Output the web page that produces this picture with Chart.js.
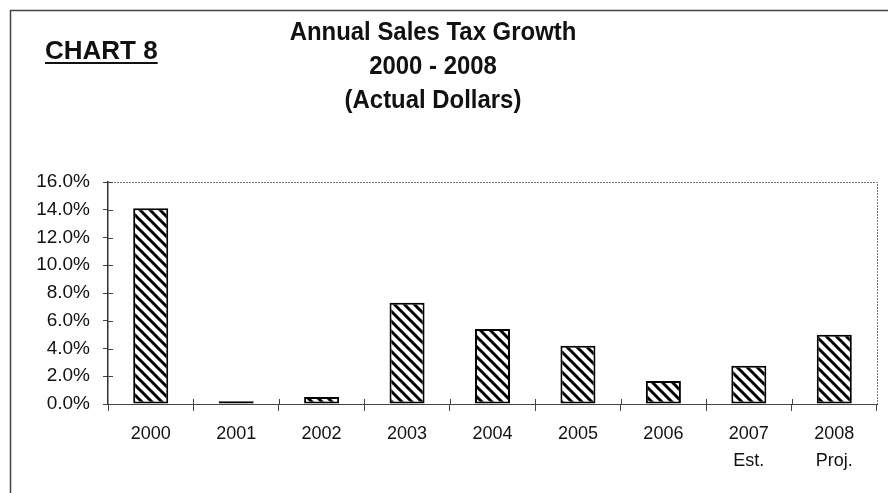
<!DOCTYPE html>
<html>
<head>
<meta charset="utf-8">
<script src="https://cdn.jsdelivr.net/npm/chart.js@4"></script>
<style>
  html, body { margin: 0; padding: 0; background: #fff; }
  #wrap { width: 888px; height: 493px; position: relative; }
</style>
</head>
<body>
<div id="wrap"><canvas id="c" width="888" height="493"></canvas></div>
<script>
// Annual sales tax growth, percent change per year
const categories = [['2000'], ['2001'], ['2002'], ['2003'], ['2004'], ['2005'], ['2006'], ['2007', 'Est.'], ['2008', 'Proj.']];
const growthPct = [14.1, 0.2, 0.5, 7.3, 5.4, 4.2, 1.65, 2.75, 5.0];
const titleLines = ['Annual Sales Tax Growth', '2000 - 2008', '(Actual Dollars)'];
const chartLabel = 'CHART 8';

// Diagonal hatch fill for the bars
function hatchPattern() {
  const c = document.createElement('canvas');
  c.width = 10; c.height = 10;
  const g = c.getContext('2d');
  g.fillStyle = '#fff';
  g.fillRect(0, 0, 10, 10);
  g.strokeStyle = '#000';
  g.lineWidth = 3;
  g.beginPath();
  g.moveTo(-5, -5); g.lineTo(15, 15);
  g.moveTo(-5, 5); g.lineTo(5, 15);
  g.moveTo(5, -5); g.lineTo(15, 5);
  g.stroke();
  return g.createPattern(c, 'repeat');
}

const LABEL_FONT = "'Liberation Sans', Arial, sans-serif";

// Page frame, headings, plot border and crossing tick marks
const decorations = {
  id: 'decorations',
  beforeDraw(chart) {
    const ctx = chart.ctx;
    ctx.save();
    ctx.fillStyle = '#fff';
    ctx.fillRect(0, 0, chart.width, chart.height);
    ctx.restore();
  },
  afterDraw(chart) {
    const ctx = chart.ctx;
    const a = chart.chartArea;
    const x = chart.scales.x, y = chart.scales.y;
    ctx.save();

    // outer frame (left and top edges)
    ctx.strokeStyle = '#444';
    ctx.lineWidth = 1.5;
    ctx.beginPath();
    ctx.moveTo(10.5, chart.height);
    ctx.lineTo(10.5, 10.5);
    ctx.lineTo(chart.width, 10.5);
    ctx.stroke();

    // plot border, top and right
    ctx.strokeStyle = '#777';
    ctx.lineWidth = 1;
    ctx.setLineDash([2, 1]);
    ctx.beginPath();
    ctx.moveTo(a.left, a.top + 0.5);
    ctx.lineTo(a.right + 0.5, a.top + 0.5);
    ctx.lineTo(a.right + 0.5, a.bottom);
    ctx.stroke();
    ctx.setLineDash([]);

    // inner halves of the tick marks
    ctx.strokeStyle = '#444';
    ctx.beginPath();
    y.ticks.forEach((t, i) => {
      const py = Math.round(y.getPixelForTick(i)) + 0.5;
      ctx.moveTo(a.left, py);
      ctx.lineTo(a.left + 5, py);
    });
    for (let i = 1; i < categories.length; i++) {
      const px = Math.round(x.getPixelForValue(i - 0.5)) + 0.5;
      ctx.moveTo(px, a.bottom);
      ctx.lineTo(px, a.bottom - 5);
    }
    ctx.stroke();

    // headings
    ctx.fillStyle = '#111';
    ctx.textBaseline = 'alphabetic';
    ctx.textAlign = 'left';
    ctx.font = "bold 26px " + LABEL_FONT;
    ctx.fillText(chartLabel, 45, 59);
    const w = ctx.measureText(chartLabel).width;
    ctx.fillRect(45, 62, w, 2);

    // condensed bold title
    ctx.textAlign = 'center';
    ctx.font = "bold 26px " + LABEL_FONT;
    titleLines.forEach((t, i) => {
      ctx.save();
      ctx.translate(433, 40 + i * 34);
      ctx.scale(0.92, 1);
      ctx.fillText(t, 0, 0);
      ctx.restore();
    });

    ctx.restore();
  }
};

new Chart(document.getElementById('c'), {
  type: 'bar',
  data: {
    labels: categories,
    datasets: [{
      data: growthPct,
      backgroundColor: hatchPattern(),
      borderColor: '#000',
      borderWidth: 2,
      borderSkipped: false,
      categoryPercentage: 1,
      barPercentage: 0.41
    }]
  },
  options: {
    responsive: false,
    animation: false,
    devicePixelRatio: 1,
    layout: { padding: { top: 182, right: 11, left: 0, bottom: 0 } },
    plugins: { legend: { display: false }, tooltip: { enabled: false }, title: { display: false } },
    scales: {
      x: {
        afterFit(s) { s.height = 89; },
        grid: { offset: true, drawOnChartArea: false, drawTicks: true, tickLength: 7, color: '#444' },
        border: { display: true, color: '#444', width: 1, dash: [2, 1] },
        ticks: {
          color: '#111',
          padding: 10,
          maxRotation: 0,
          autoSkip: false,
          font: { family: LABEL_FONT, size: 18, lineHeight: 1.5 }
        }
      },
      y: {
        min: 0,
        max: 16,
        afterFit(s) { s.width = 108; },
        grid: { drawOnChartArea: false, drawTicks: true, tickLength: 5, color: '#444' },
        border: { display: true, color: '#333', width: 1.5 },
        ticks: {
          stepSize: 2,
          color: '#111',
          padding: 13,
          font: { family: LABEL_FONT, size: 19 },
          callback: v => v.toFixed(1) + '%'
        }
      }
    }
  },
  plugins: [decorations]
});
</script>
</body>
</html>
